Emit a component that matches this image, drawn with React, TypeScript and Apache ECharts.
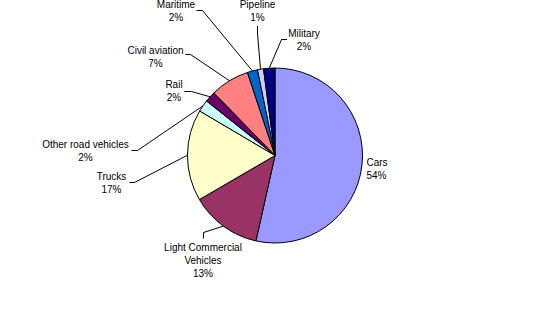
import React, { useEffect, useRef } from "react";
import * as echarts from "echarts";

const categories = [
  "Cars",
  "Light Commercial Vehicles",
  "Trucks",
  "Other road vehicles",
  "Rail",
  "Civil aviation",
  "Maritime",
  "Pipeline",
  "Military",
];
const shares = [53.5, 13.1, 16.9, 2.2, 2.0, 7.2, 1.9, 1.1, 2.1];
const colors = [
  "#9999FF",
  "#993366",
  "#FFFFCC",
  "#CCFFFF",
  "#660066",
  "#FF8080",
  "#0066CC",
  "#CCCCFF",
  "#000080",
];

// label placement (layout only)
const labelPos: { x: number; y: number; align: string; pts: number[][] }[] = [
  { x: 366.5, y: 168.5, align: "left", pts: [] },
  { x: 203, y: 260, align: "center", pts: [[203.5, 232.5], [203.5, 238.5]] },
  { x: 111.5, y: 183, align: "center", pts: [[134.5, 182.5], [129.5, 182.5]] },
  { x: 85.5, y: 150.5, align: "center", pts: [[137.5, 150.5], [131.5, 150.5]] },
  { x: 174, y: 91, align: "center", pts: [[191.5, 91.5], [184.5, 91.5]] },
  { x: 155.5, y: 56.5, align: "center", pts: [[190.5, 54.5], [185.5, 54.5]] },
  { x: 176, y: 10.5, align: "center", pts: [[202.5, 10.5], [196.5, 10.5]] },
  { x: 257.5, y: 10.5, align: "center", pts: [[257.5, 33.5], [257.5, 26]] },
  { x: 304, y: 40, align: "center", pts: [[281.5, 39.5], [287, 39.5]] },
];

export default function App() {
  const ref = useRef<HTMLDivElement>(null);
  useEffect(() => {
    if (!ref.current) return;
    const chart = echarts.init(ref.current, undefined, { renderer: "svg" });
    chart.setOption({
      animation: false,
      backgroundColor: "#ffffff",
      series: [
        {
          type: "pie",
          center: [275, 155.5],
          radius: 87.5,
          startAngle: 90,
          clockwise: true,
          avoidLabelOverlap: false,
          itemStyle: { borderColor: "#000000", borderWidth: 1 },
          emphasis: { disabled: true },
          label: {
            show: true,
            position: "outside",
            color: "#000000",
            fontFamily: "Liberation Sans, Arial, sans-serif",
            fontSize: 10,
            lineHeight: 13,
            formatter: (p: any) =>
              p.name.replace("Light Commercial ", "Light Commercial\n") +
              "\n" +
              Math.round(p.percent) +
              "%",
          },
          labelLine: {
            show: true,
            length: 10,
            length2: 5,
            lineStyle: { color: "#000000", width: 1 },
          },
          labelLayout: (params: any) => {
            const lp = labelPos[params.dataIndex];
            const out: any = {
              x: lp.x,
              y: lp.y,
              align: lp.align,
              verticalAlign: "middle",
              hideOverlap: false,
              moveOverlap: null,
            };
            if (params.labelLinePoints && lp.pts.length) {
              out.labelLinePoints = [params.labelLinePoints[0], ...lp.pts];
            }
            return out;
          },
          data: categories.map((name, i) => ({
            name,
            value: shares[i],
            itemStyle: { color: colors[i] },
            labelLine: { show: i !== 0 },
            label: { align: labelPos[i].align },
          })),
        },
      ],
    });
    return () => chart.dispose();
  }, []);
  return (
    <div
      ref={ref}
      style={{ position: "fixed", left: 0, top: 0, width: 550, height: 313 }}
    />
  );
}
